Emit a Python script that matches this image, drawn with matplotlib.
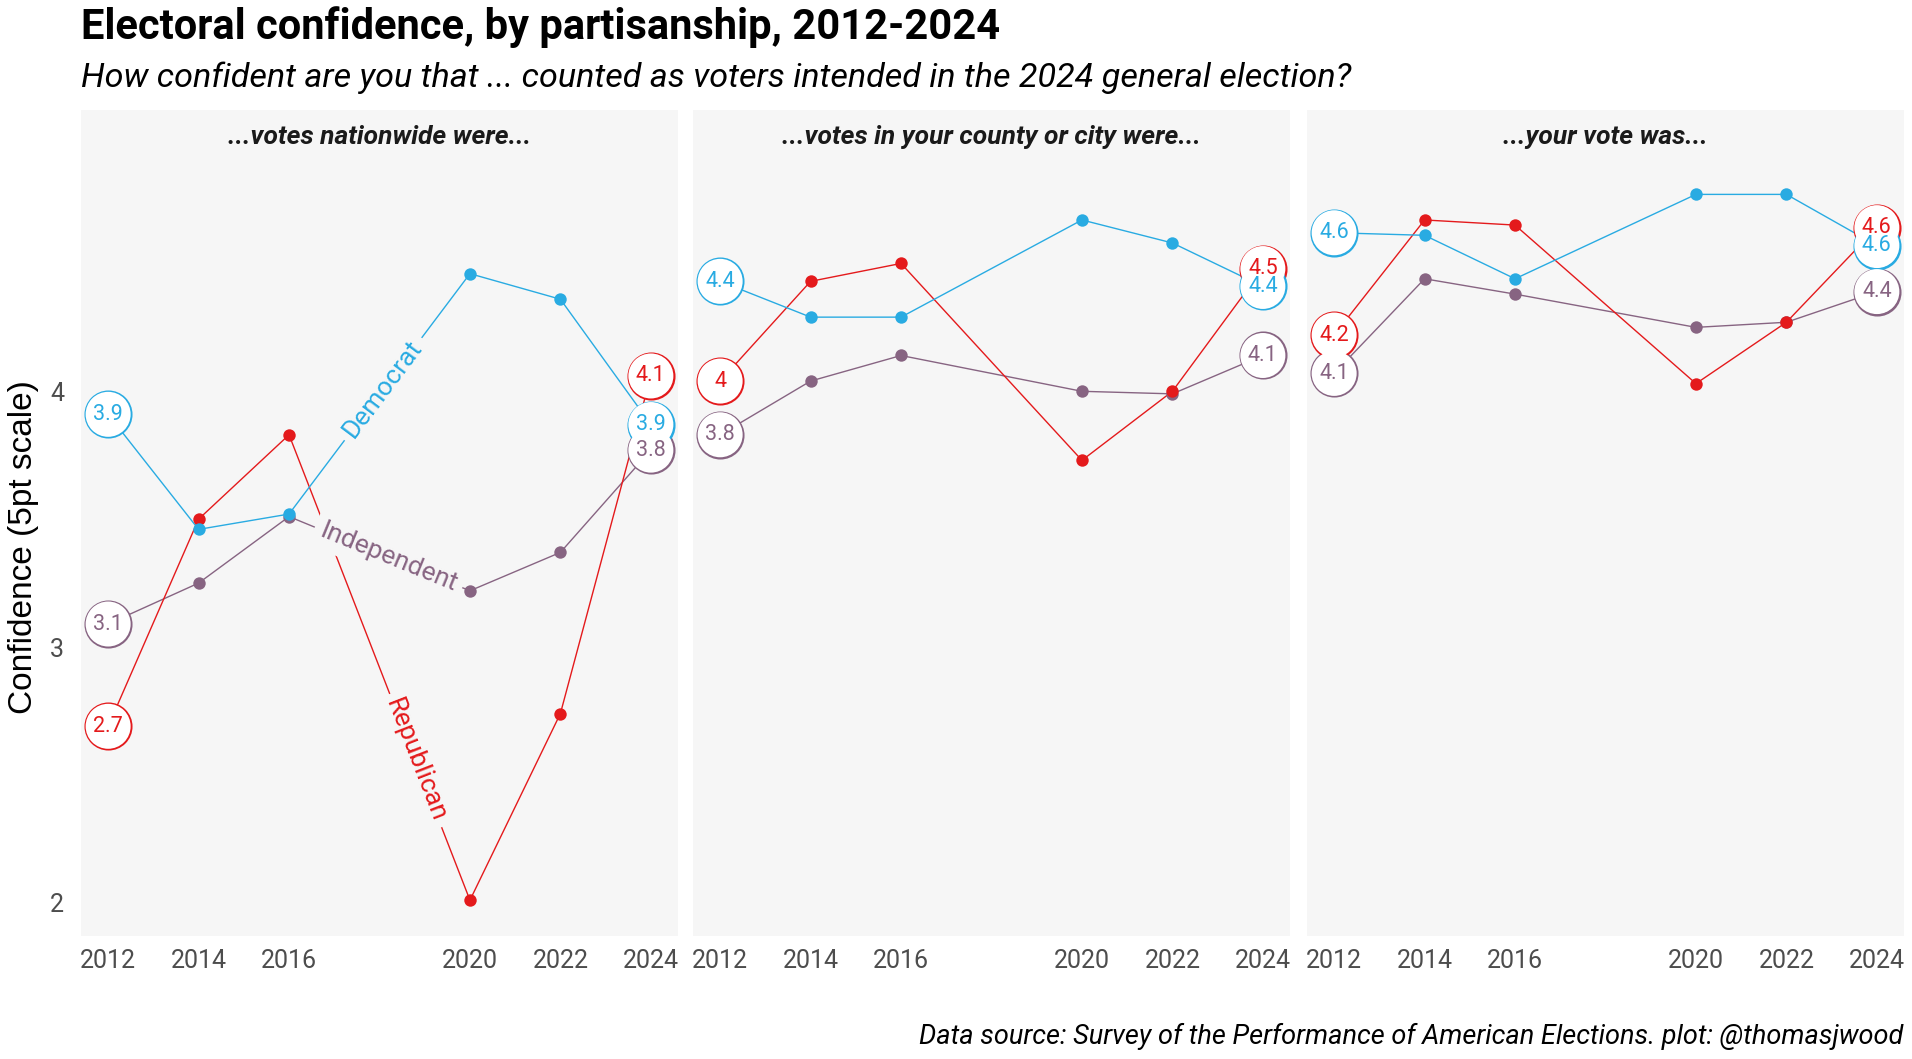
import math
import matplotlib
matplotlib.use("Agg")
import matplotlib.pyplot as plt

plt.rcParams['font.family'] = ['Roboto', 'DejaVu Sans']

# data
years = [2012, 2014, 2016, 2020, 2022, 2024]
panel_titles = ["...votes nationwide were...",
                "...votes in your county or city were...",
                "...your vote was..."]

nation_dem = [3.91, 3.46, 3.52, 4.46, 4.36, 3.87]
nation_rep = [2.69, 3.50, 3.83, 2.01, 2.74, 4.06]
nation_ind = [3.09, 3.25, 3.51, 3.22, 3.37, 3.77]

county_dem = [4.43, 4.29, 4.29, 4.67, 4.58, 4.41]
county_rep = [4.04, 4.43, 4.50, 3.73, 4.00, 4.48]
county_ind = [3.83, 4.04, 4.14, 4.00, 3.99, 4.14]

own_dem = [4.62, 4.61, 4.44, 4.77, 4.77, 4.57]
own_rep = [4.22, 4.67, 4.65, 4.03, 4.27, 4.64]
own_ind = [4.07, 4.44, 4.38, 4.25, 4.27, 4.39]

parties = ["Independent", "Republican", "Democrat"]
colors = {"Democrat": "#29abe2", "Republican": "#e41a1c", "Independent": "#876482"}
panels = [
    {"Democrat": nation_dem, "Republican": nation_rep, "Independent": nation_ind},
    {"Democrat": county_dem, "Republican": county_rep, "Independent": county_ind},
    {"Democrat": own_dem, "Republican": own_rep, "Independent": own_ind},
]
# inline line labels in the first panel: (segment start index, fraction along segment)
line_labels = {"Democrat": (2, 0.52), "Independent": (2, 0.55), "Republican": (2, 0.70)}

bg = "#f6f6f6"
W, H = 1912, 1059
fig = plt.figure(figsize=(W / 100, H / 100), dpi=100)

axes = []
lefts = [81, 693, 1307]
pw = 597
for i, panel in enumerate(panels):
    ax = fig.add_axes([lefts[i] / W, 1 - 936 / H, pw / W, (936 - 110) / H])
    axes.append(ax)
    ax.set_facecolor(bg)
    for s in ax.spines.values():
        s.set_visible(False)
    ax.set_xlim(2011.4, 2024.6)
    ax.set_ylim(1.87, 5.10)
    ax.set_xticks([2012, 2014, 2016, 2020, 2022, 2024])
    ax.set_yticks([2, 3, 4])
    ax.tick_params(length=0, labelsize=18, labelcolor="#4d4d4d")
    ax.tick_params(axis="x", pad=9)
    ax.tick_params(axis="y", pad=12)
    if i > 0:
        ax.set_yticklabels([])
    ax.text(0.5, 0.967, panel_titles[i], transform=ax.transAxes, ha="center",
            va="center", fontsize=19, fontweight="bold", style="italic", color="#1a1a1a")

    for party in parties:
        vals = panel[party]
        c = colors[party]
        ax.plot(years, vals, color=c, lw=1.0, zorder=2)
        ax.scatter(years[1:-1], vals[1:-1], s=80, color=c, zorder=3, linewidths=0)
        ends_x = [years[0], years[-1]]
        ends_y = [vals[0], vals[-1]]
        # outline first, white fill on top, then text: overlapping circles merge
        ax.scatter(ends_x, ends_y, s=1050, facecolor="white", edgecolor=c,
                   linewidths=2.2, zorder=5)
        ax.scatter(ends_x, ends_y, s=1050, facecolor="white", edgecolor="none", zorder=6)
        for x, y in zip(ends_x, ends_y):
            ax.text(x, y, "%g" % round(y, 1), ha="center", va="center", fontsize=15.5,
                    color=c, zorder=7)

# labels along the lines in the first panel
ax = axes[0]
fig.canvas.draw()
for party, (j, t) in line_labels.items():
    vals = panels[0][party]
    x0, y0 = years[j], vals[j]
    x1, y1 = years[j + 1], vals[j + 1]
    p0 = ax.transData.transform((x0, y0))
    p1 = ax.transData.transform((x1, y1))
    ang = math.degrees(math.atan2(p1[1] - p0[1], p1[0] - p0[0]))
    ax.text(x0 + t * (x1 - x0), y0 + t * (y1 - y0), party, rotation=ang,
            rotation_mode="anchor", ha="center", va="center", fontsize=19,
            color=colors[party], zorder=4,
            bbox=dict(boxstyle="square,pad=0.25", facecolor=bg, edgecolor="none"))

fig.text(24 / W, 1 - 547 / H, "Confidence (5pt scale)", rotation=90, ha="center",
         va="center", fontsize=24, family=["Liberation Sans", "DejaVu Sans"])
fig.text(81 / W, 1 - 27 / H, "Electoral confidence, by partisanship, 2012-2024",
         ha="left", va="center", fontsize=30, fontweight="bold")
fig.text(81 / W, 1 - 78 / H,
         "How confident are you that ... counted as voters intended in the 2024 general election?",
         ha="left", va="center", fontsize=24.6, style="italic")
fig.text(1903 / W, 1 - 1036 / H,
         "Data source: Survey of the Performance of American Elections. plot: @thomasjwood",
         ha="right", va="center", fontsize=19.5, style="italic")

fig.savefig("out.png", dpi=100, facecolor="white")
